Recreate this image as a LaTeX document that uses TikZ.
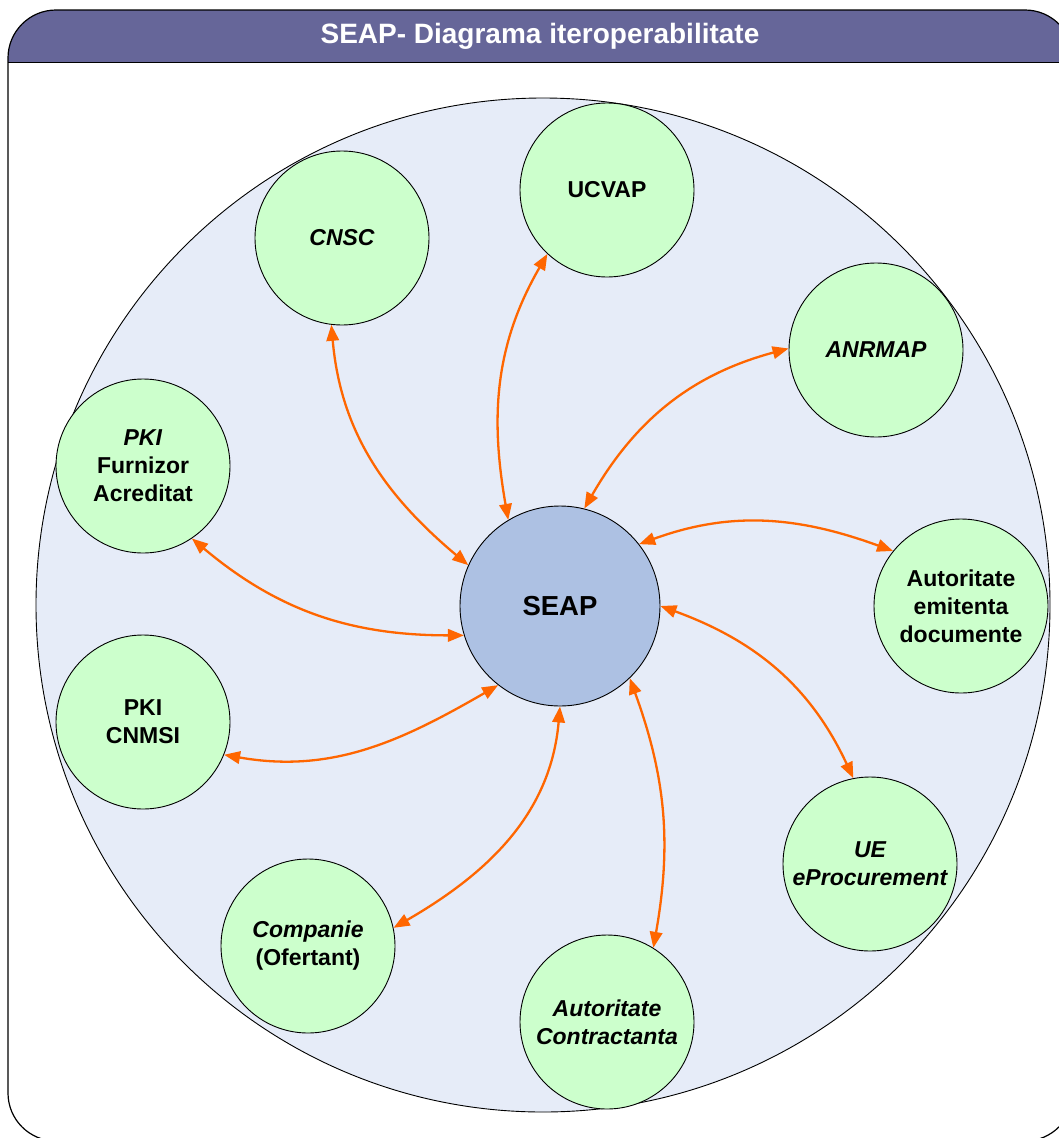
\documentclass[tikz,border=0pt]{standalone}
\usepackage{fontspec}
\setmainfont{Liberation Sans}
\usetikzlibrary{arrows.meta}
\definecolor{hdr}{HTML}{666699}
\definecolor{bigc}{HTML}{E6ECF8}
\definecolor{seapc}{HTML}{ADC1E3}
\definecolor{grn}{HTML}{CCFFCC}
\definecolor{org}{HTML}{FF6600}
\begin{document}
\begin{tikzpicture}[x=1pt,y=-1pt,
 ent/.style={circle,draw=black,line width=0.9pt,fill=grn,minimum size=174pt,inner sep=0pt,align=center,font=\bfseries\fontsize{23}{28}\selectfont},
 link/.style={org,line width=2.3pt,{Triangle[length=16pt,width=12.5pt]}-{Triangle[length=16pt,width=12.5pt]}}]
\useasboundingbox (0,0) rectangle (1059,1138);
\begin{scope}
\clip (0,0) rectangle (1059,1138);
\fill[white] (0,0) rectangle (1059,1138);
\begin{scope}
\clip[rounded corners=48pt] (8,10) rectangle (1073,1141);
\fill[hdr] (0,0) rectangle (1080,62);
\end{scope}
\draw[line width=1.2pt, rounded corners=48pt] (8,10) rectangle (1073,1141);
\draw[line width=1pt] (8,62) -- (1073,62);
\end{scope}
\node[text=white, font=\bfseries\fontsize{28}{32}\selectfont] (title) at (540,36) {SEAP- Diagrama iteroperabilitate};

\node[circle, draw=black, line width=0.9pt, fill=bigc, minimum size=1014pt, inner sep=0pt] (outer) at (543,605) {};

\node[circle, draw=black, line width=0.9pt, fill=seapc, minimum size=200pt, inner sep=0pt, font=\bfseries\fontsize{27.5}{32}\selectfont] (seap) at (560,606) {SEAP};

\node[ent] (ucvap) at (607,190) {UCVAP};
\node[ent] (cnsc) at (342,238) {\itshape CNSC};
\node[ent] (anrmap) at (876,350) {\itshape ANRMAP};
\node[ent] (pkif) at (143,466) {\textit{PKI}\\Furnizor\\Acreditat};
\node[ent] (aed) at (961,606) {Autoritate\\emitenta\\documente};
\node[ent] (pkic) at (143,722) {PKI\\CNMSI};
\node[ent] (ue) at (870,864) {\itshape UE\\\itshape eProcurement};
\node[ent] (comp) at (308,946) {\textit{Companie}\\(Ofertant)};
\node[ent] (ac) at (607,1022) {\itshape Autoritate\\\itshape Contractanta};

\draw[link] (cnsc.263) to[out=-85,in=140] (seap.156);
\draw[link] (ucvap.227) to[out=-120,in=100] (seap.121);
\draw[link] (anrmap.179) to[out=195,in=60] (seap.76);
\draw[link] (aed.141) to[out=160,in=20] (seap.38);
\draw[link] (seap.0) to[out=-20,in=115] (ue.101);
\draw[link] (seap.-46) to[out=-70,in=80] (ac.58);
\draw[link] (seap.-90) to[out=-95,in=30] (comp.12);
\draw[link] (seap.232) to[out=210,in=-10] (pkic.-22);
\draw[link] (seap.197) to[out=180,in=-40] (pkif.-56);
\end{tikzpicture}
\end{document}
